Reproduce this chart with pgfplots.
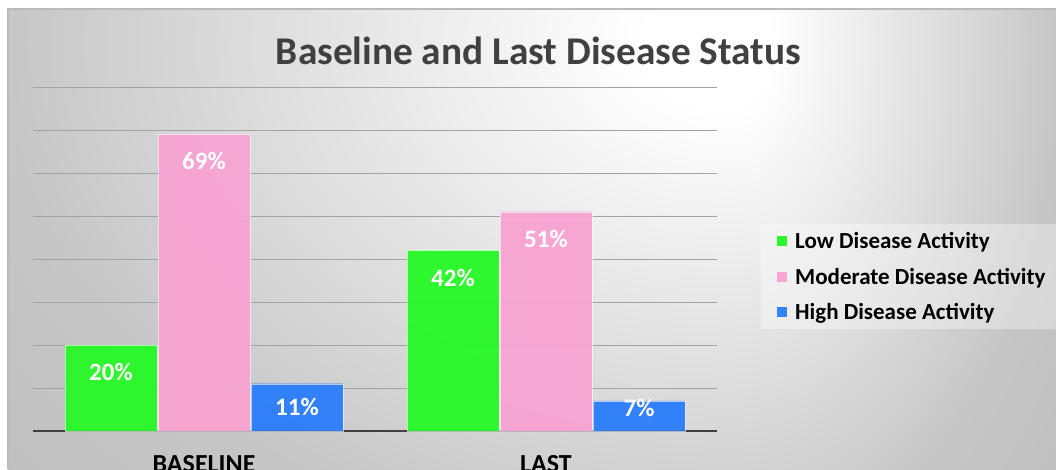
\documentclass[border=0pt]{standalone}
\usepackage{pgfplots}
\pgfplotsset{compat=1.18}
\usepackage{fontspec}
\setmainfont{Carlito}
\definecolor{cgreen}{RGB}{40,248,40}
\definecolor{cpink}{RGB}{248,164,210}
\definecolor{cblue}{RGB}{44,126,250}
\definecolor{ctitle}{RGB}{64,64,64}
\definecolor{bgmid}{RGB}{232,232,232}
\definecolor{bgedge}{RGB}{198,198,198}
\definecolor{bgdark}{RGB}{175,175,175}
\pgfdeclareradialshading{bgshade}{\pgfpointorigin}{color(0bp)=(white); color(3bp)=(white); color(12bp)=(bgmid); color(25bp)=(bgedge); color(50bp)=(bgdark)}
\begin{document}
\begin{tikzpicture}
\useasboundingbox (0pt,0pt) rectangle (1056pt,469pt);
\clip (0pt,0pt) rectangle (1056pt,469pt);
\fill[white] (0pt,0pt) rectangle (1056pt,469pt);
\begin{scope}
\clip (8pt,0pt) rectangle (730pt,460pt);
\shade[shading=bgshade] (0pt,-101pt) rectangle (1460pt,949pt);
\end{scope}
\begin{scope}
\clip (730pt,0pt) rectangle (1056pt,460pt);
\shade[shading=bgshade] (400pt,-101pt) rectangle (1060pt,949pt);
\end{scope}
\draw[color=black!27, line width=2pt] (8pt,0pt) -- (8pt,460pt) -- (1060pt,460pt);
\node[font=\bfseries\fontsize{39.3}{46}\selectfont, text=ctitle, inner sep=0pt, anchor=center] at (538.5pt,418.5pt) {Baseline and Last Disease Status};
\begin{axis}[
  at={(33pt,38pt)}, anchor=south west,
  scale only axis, width=684pt, height=344pt,
  xmin=-0.5, xmax=1.5, ymin=0, ymax=80,
  axis line style={draw=none},
  major tick length=0pt,
  ytick={10,20,...,80}, yticklabels={},
  ymajorgrids, grid style={color=black!36, line width=1pt},
  extra y ticks={0}, extra y tick labels={},
  extra y tick style={grid style={color=ctitle, line width=2.5pt}},
  xtick={0,1}, xticklabels={BASELINE,LAST},
  xticklabel style={font=\bfseries\fontsize{26}{30}\selectfont, text=black, anchor=north, yshift=-21pt},
  legend style={at={(1.0643,0.6017)}, anchor=north west, draw=none, fill=white, fill opacity=0.35, text opacity=1, font=\bfseries\fontsize{23}{27}\selectfont, row sep=14pt, inner xsep=16pt, inner ysep=6pt,
    /tikz/every odd column/.append style={column sep=6pt}},
  legend cell align=left,
  legend image code/.code={\fill[#1, draw=none] (0pt,-5pt) rectangle (10pt,5pt);},
]
\addplot[ybar, bar width=92pt, bar shift=-93pt, fill=cgreen, draw=white, draw opacity=0.6, fill opacity=0.96] coordinates {(0,20) (1,42)};
\addlegendentry{Low Disease Activity}
\addplot[ybar, bar width=92pt, bar shift=0pt, fill=cpink, draw=white, draw opacity=0.6, fill opacity=0.96] coordinates {(0,69) (1,51)};
\addlegendentry{Moderate Disease Activity}
\addplot[ybar, bar width=92pt, bar shift=93pt, fill=cblue, draw=white, draw opacity=0.6, fill opacity=0.96] coordinates {(0,11) (1,7)};
\addlegendentry{High Disease Activity}
\addplot[draw=none, forget plot, nodes near coords, point meta=explicit symbolic,
  nodes near coords style={anchor=center, text=white, inner sep=0pt, font=\bfseries\fontsize{25}{29}\selectfont}]
  coordinates {(-0.272,13.7)[20\%] (0,62.7)[69\%] (0.272,5.5)[11\%] (0.728,35.7)[42\%] (1,44.7)[51\%] (1.272,5.35)[7\%]};
\end{axis}
\end{tikzpicture}
\end{document}
